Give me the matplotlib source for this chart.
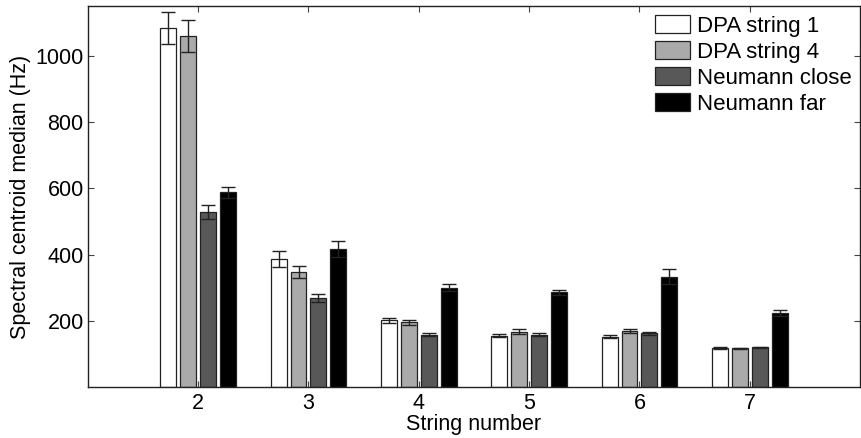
import numpy as np
import matplotlib
matplotlib.use('Agg')
import matplotlib.pyplot as plt

plt.rcParams['font.family'] = ['Liberation Sans', 'DejaVu Sans']

# data
strings = [2, 3, 4, 5, 6, 7]
series = ['DPA string 1', 'DPA string 4', 'Neumann close', 'Neumann far']
dpa1 = [1084, 387, 202, 156, 152, 118]
dpa4 = [1061, 347, 196, 168, 169, 117]
neu_close = [529, 269, 159, 158, 163, 120]
neu_far = [588, 417, 300, 286, 334, 224]
dpa1_err = [47, 23, 8, 6, 5, 2]
dpa4_err = [48, 18, 8, 7, 6, 1]
neu_close_err = [21, 13, 5, 5, 4, 2]
neu_far_err = [17, 23, 10, 7, 22, 8]

values = [dpa1, dpa4, neu_close, neu_far]
errors = [dpa1_err, dpa4_err, neu_close_err, neu_far_err]
colors = ['white', '#aaaaaa', '#585858', 'black']

fig = plt.figure(figsize=(8.61, 4.38), dpi=100)
ax = fig.add_axes([0.102, 0.116, 0.897, 0.870])

x = np.array(strings, dtype=float)
width = 0.144
offsets = [-0.27, -0.09, 0.09, 0.27]
for vals, errs, col, lab, off in zip(values, errors, colors, series, offsets):
    ax.bar(x + off, vals, width, color=col, edgecolor='#222222', linewidth=0.9, label=lab)
    ax.errorbar(x + off, vals, yerr=errs, fmt='none', ecolor='#222222',
                elinewidth=1.0, capsize=5, capthick=1.0)

fs = 15.5
ax.set_xlim(1, 8)
ax.set_ylim(0, 1150)
ax.set_xticks(strings)
ax.set_yticks([200, 400, 600, 800, 1000])
ax.tick_params(direction='in', top=True, right=True, length=4, labelsize=fs,
               color='#444444')
ax.tick_params(axis='x', pad=4)
ax.tick_params(axis='y', pad=3)
for s in ax.spines.values():
    s.set_linewidth(1.0)
    s.set_color('#222222')
ax.set_xlabel('String number', fontsize=fs, labelpad=0.5)
ax.set_ylabel('Spectral centroid median (Hz)', fontsize=fs, labelpad=3)

ax.legend(loc='upper right', frameon=False, fontsize=16, handlelength=1.55,
          handleheight=0.85, labelspacing=0.2, handletextpad=0.3,
          borderaxespad=0.2, borderpad=0.2)

fig.savefig('out.png', dpi=100)
